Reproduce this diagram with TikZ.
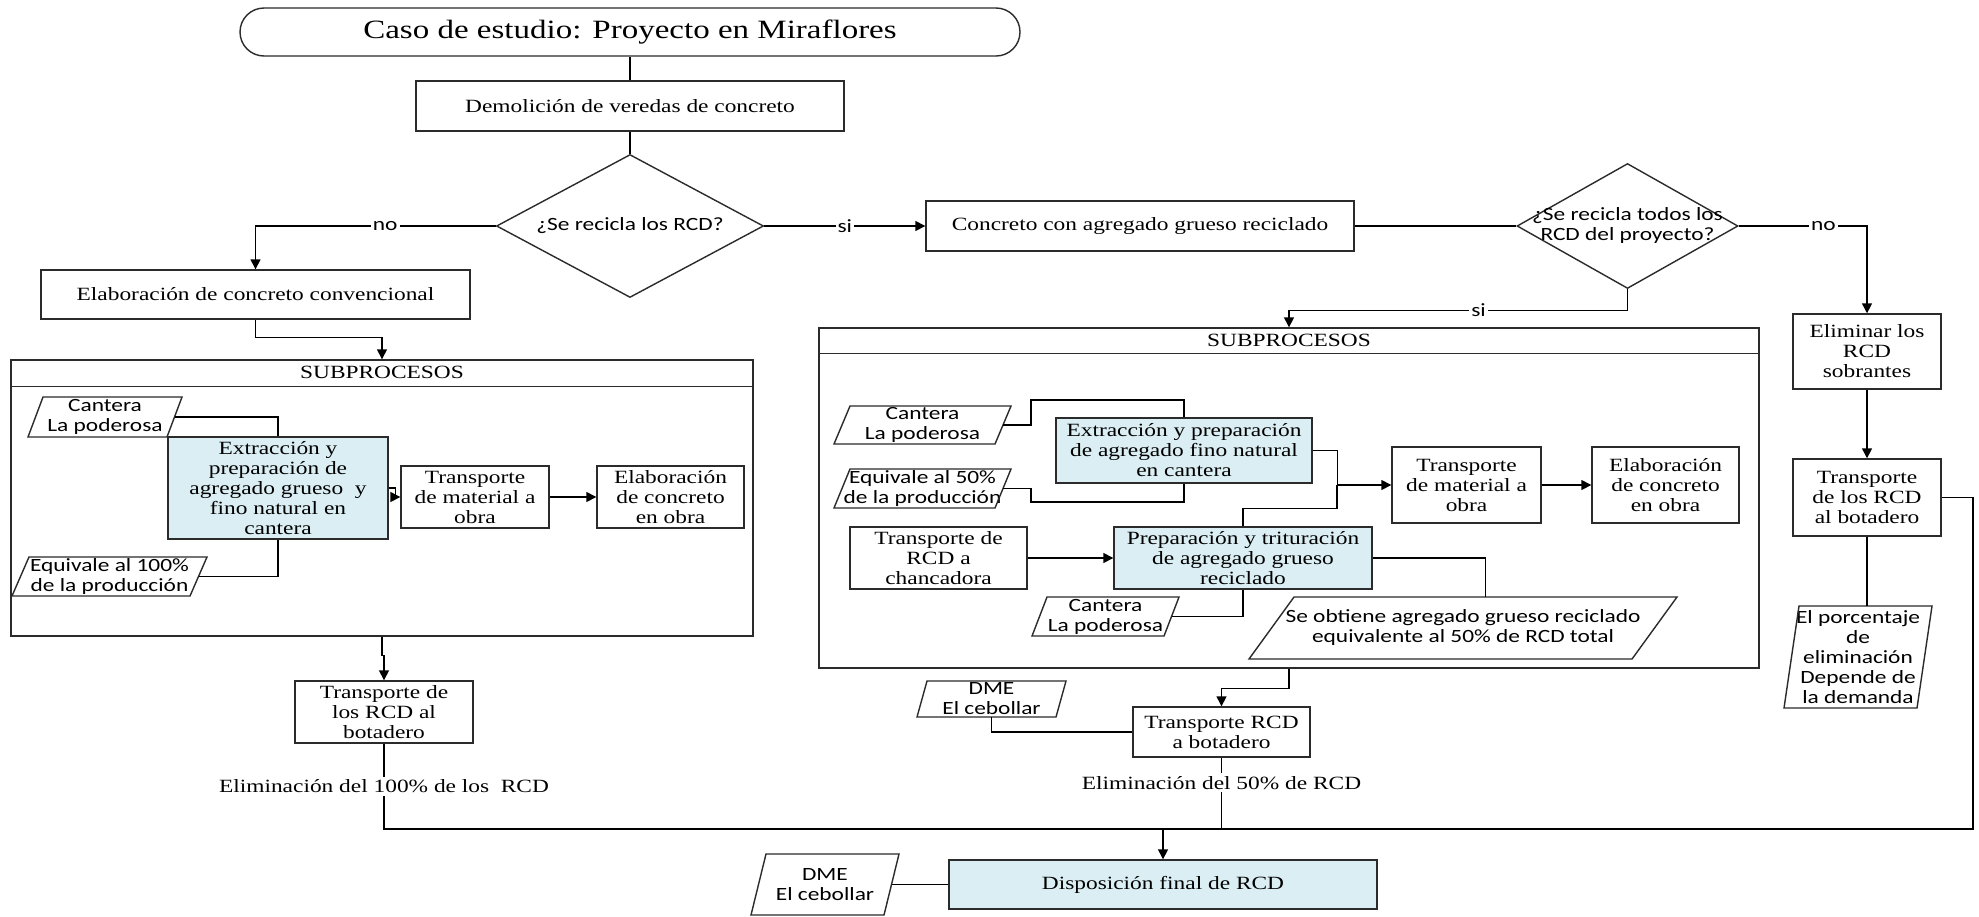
\documentclass[tikz,border=0pt]{standalone}
\usepackage{fontspec}
\setmainfont[FakeStretch=1.25]{Liberation Serif}
\newfontfamily\lblsans[FakeStretch=1.25]{Carlito}
\usetikzlibrary{shapes.geometric,arrows.meta,calc}
\definecolor{procblue}{HTML}{DAEEF3}
\definecolor{edgegray}{HTML}{2B2B2B}

\tikzset{
  sz/.style 2 args={minimum width={#1*0.5pt}, minimum height={#2*0.5pt}},
  txtserif/.style={font=\fontsize{9.35}{10}\selectfont},
  txtsans/.style={font=\lblsans\fontsize{9.35}{10}\selectfont},
  box/.style={draw=edgegray, line width=0.7pt, align=center, inner sep=1pt, txtserif},
  procbox/.style={box, fill=procblue},
  parabox/.style={align=center, inner sep=0pt, outer sep=0pt, txtsans},
  subframe/.style={draw=edgegray, line width=0.7pt, inner sep=0pt},
  decision/.style={diamond, draw=edgegray, line width=0.7pt, inner sep=0pt},
  conn/.style={draw=black, line width=0.7pt},
  arrconn/.style={conn, -{Triangle[length=5pt,width=5pt]}},
  lbltag/.style={fill=white, inner sep=1pt, txtsans},
  elimlbl/.style={fill=white, inner sep=1.5pt, txtserif},
}

% parallelogram outline drawn around a named node: #1 node, #2 slant
\newcommand{\paraout}[2]{%
  \draw[draw=edgegray, line width=0.7pt]
    ($(#1.north west)+(#2,0)$) -- (#1.north east)
    -- ($(#1.south east)+(-#2,0)$) -- (#1.south west) -- cycle;}

\begin{document}
\begin{tikzpicture}[x=0.5pt,y=-0.5pt]
\fill[white] (0,0) rectangle (1979,916);
\useasboundingbox (0,0) rectangle (1979,916);

% ---------- main flow ----------
\node[draw=edgegray, line width=0.7pt, rounded corners=12pt, sz={780}{48},
      font=\fontsize{13.2}{15}\selectfont] (title) at (630,32)
      {Caso de estudio: Proyecto en Miraflores};
\node[box, sz={428}{50}] (dem) at (630,106) {Demolición de veredas de concreto};
\node[decision, sz={267}{143}, label={[txtsans]center:¿Se recicla los RCD?}] (d1) at (630,226) {};
\node[box, sz={429}{49}] (elab) at (255.5,294.5) {Elaboración de concreto convencional};
\node[box, sz={428}{50}] (conc) at (1140,226) {Concreto con agregado grueso reciclado};
\node[decision, sz={221}{125}, label={[txtsans, align=center]center:¿Se recicla todos los\\RCD del proyecto?}] (d2) at (1627.5,226) {};
\node[box, sz={148}{75}] (elim) at (1867,351.5) {Eliminar los\\RCD\\sobrantes};
\node[box, sz={148}{77}] (trans3) at (1867,497.5) {Transporte\\de los RCD\\al botadero};
\node[parabox, sz={148}{102}] (porc) at (1858,657)
  {El porcentaje\\de\\eliminación\\Depende de\\la demanda};
\paraout{porc}{15}

% ---------- left subprocess frame ----------
\node[subframe, sz={742}{276}] (sub1) at (382,498) {};
\draw[draw=edgegray, line width=0.7pt] ($(sub1.north west)+(0,27)$) -- ($(sub1.north east)+(0,27)$);
\node[txtserif, inner sep=0pt] (sub1t) at ($(sub1.north)+(0,13.5)$) {SUBPROCESOS};

\node[parabox, sz={154}{40}] (cant1) at (105,417) {Cantera\\La poderosa};
\paraout{cant1}{15}
\node[procbox, sz={220}{102}] (ext1) at (278,488)
  {Extracción y\\preparación de\\agregado grueso\ \ y\\fino natural en\\cantera};
\node[parabox, sz={195}{39}] (eq1) at (109.5,576.5) {Equivale al 100\%\\de la producción};
\paraout{eq1}{17}
\node[box, sz={148}{62}] (tr1) at (475,497) {Transporte\\de material a\\obra};
\node[box, sz={147}{62}] (el1) at (670.5,497) {Elaboración\\de concreto\\en obra};

% ---------- right subprocess frame ----------
\node[subframe, sz={940}{340}] (sub2) at (1289,498) {};
\draw[draw=edgegray, line width=0.7pt] ($(sub2.north west)+(0,26)$) -- ($(sub2.north east)+(0,26)$);
\node[txtserif, inner sep=0pt] (sub2t) at ($(sub2.north)+(0,13)$) {SUBPROCESOS};

\node[parabox, sz={177}{38}] (cant2) at (922.5,425) {Cantera\\La poderosa};
\paraout{cant2}{16}
\node[procbox, sz={256}{65}] (ext2) at (1184,450.5)
  {Extracción y preparación\\de agregado fino natural\\en cantera};
\node[parabox, sz={177}{39}] (eq2) at (922.5,488.5) {Equivale al 50\%\\de la producción};
\paraout{eq2}{16}
\node[box, sz={149}{76}] (tr2) at (1466.5,485) {Transporte\\de material a\\obra};
\node[box, sz={147}{76}] (el2) at (1665.5,485) {Elaboración\\de concreto\\en obra};
\node[box, sz={177}{62}] (trch) at (938.5,558) {Transporte de\\RCD a\\chancadora};
\node[procbox, sz={258}{62}] (prep) at (1243,558)
  {Preparación y trituración\\de agregado grueso\\reciclado};
\node[parabox, sz={147}{39}] (cant3) at (1105.5,616.5) {Cantera\\La poderosa};
\paraout{cant3}{15}
\node[parabox, sz={428}{62}] (obt) at (1463,628)
  {Se obtiene agregado grueso reciclado\\equivalente al 50\% de RCD total};
\paraout{obt}{45}

% ---------- lower part ----------
\node[box, sz={178}{62}] (trans1) at (384,712) {Transporte de\\los RCD al\\botadero};
\node[box, sz={177}{50}] (trans2) at (1221.5,732) {Transporte RCD\\a botadero};
\node[parabox, sz={149}{36}] (dme1) at (991.5,699) {DME\\El cebollar};
\paraout{dme1}{10}
\node[procbox, sz={428}{49}] (disp) at (1163,884.5) {Disposición final de RCD};
\node[parabox, sz={148}{61}] (dme2) at (825,884.5) {DME\\El cebollar};
\paraout{dme2}{15}

\coordinate (jr) at (1973,829);
\coordinate (j) at (disp.north |- jr);

% ---------- connectors ----------
\draw[conn] (title.south) -- (dem.north);
\draw[conn] (dem.south) -- (d1.north);
\draw[arrconn] (d1.west) -| node[lbltag, pos=0.23] {no} (elab.north);
\draw[arrconn] (d1.east) -- node[lbltag] {si} (conc.west);
\draw[conn] (conc.east) -- (d2.west);
\draw[arrconn] (d2.east) -| node[lbltag, pos=0.33] {no} (elim.north);
\draw[arrconn] (d2.south) -- ++(0,21) -| node[lbltag, pos=0.22] {si} (sub2.north);
\draw[arrconn] (elab.south) -- ++(0,18) -| (sub1.north);
\draw[arrconn] (elim.south) -- (trans3.north);
\draw[conn] (trans3.south) -- (trans3.south |- porc.north);
\draw[conn] (trans3.east) -| (jr) -- (j);

\draw[conn] ($(cant1.east)+(-7.5,0)$) -| (ext1.north);
\draw[conn] ($(eq1.east)+(-8.5,0)$) -| (ext1.south);
\draw[arrconn] (ext1.east) -- ++(7,0) |- (tr1.west);
\draw[arrconn] (tr1.east) -- (el1.west);
\draw[arrconn] (sub1.south) -- ++(0,19) -| (trans1.north);
\draw[conn] (trans1.south) -- node[elimlbl] {Eliminación del 100\% de los\ \ RCD} (trans1.south |- j) -- (j);

\draw[conn] ($(cant2.east)+(-8,0)$) -- ++(28,0) -- ++(0,-25) -| (ext2.north);
\draw[conn] ($(eq2.east)+(-8,0)$) -- ++(28,0) -- ++(0,13.5) -| (ext2.south);
\draw[arrconn] (ext2.east) -- ++(25,0) |- (tr2.west);
\draw[conn] (prep.north) -- ++(0,-18) -| ($(tr2.west)+(-54.5,0)$);
\draw[arrconn] (tr2.east) -- (el2.west);
\draw[arrconn] (trch.east) -- (prep.west);
\draw[conn] ($(cant3.east)+(-7.5,0)$) -| (prep.south);
\draw[conn] (prep.east) -| ($(obt.north)+(22.5,0)$);

\draw[arrconn] (sub2.south) -- ++(0,20) -| (trans2.north);
\draw[conn] (dme1.south) |- (trans2.west);
\draw[conn] (trans2.south) -- node[elimlbl, pos=0.35] {Eliminación del 50\% de RCD} (trans2.south |- j);
\draw[arrconn] (j) -- (disp.north);
\draw[conn] ($(dme2.east)+(-7.5,0)$) -- (disp.west);
\end{tikzpicture}
\end{document}
